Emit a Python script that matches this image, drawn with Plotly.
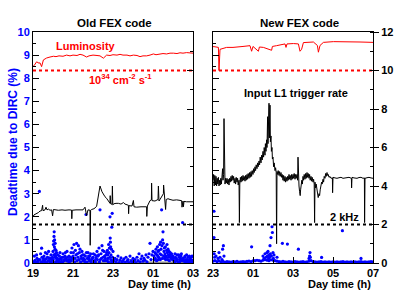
import plotly.graph_objects as go

# ---------------- data ----------------
# Left panel ("Old FEX code"), hours since midnight of first day (25 = 01h, 27 = 03h)
lumi_left_h = [19.0, 19.05, 19.18, 19.3, 19.35, 19.43, 19.52, 19.6, 19.68, 19.85, 20.02, 20.15, 20.3, 20.5,
               20.68, 20.85, 21.0, 21.2, 21.35, 21.5, 21.68, 21.8, 22.0, 22.2, 22.35, 22.52, 22.68, 22.85,
               23.0, 23.2, 23.35, 23.5, 23.7, 23.85, 24.02, 24.2, 24.35, 24.5, 24.68, 24.85, 25.02, 25.15,
               25.3, 25.5, 25.68, 25.85, 26.02, 26.2, 26.35, 26.5, 26.68, 26.85, 27.0]
lumi_left_v = [10.2, 10.25, 10.45, 10.38, 10.4, 10.2, 10.55, 10.6, 10.65, 10.7, 10.74, 10.72, 10.76, 10.74,
               10.8, 10.76, 10.8, 10.78, 10.84, 10.8, 10.7, 10.76, 10.8, 10.78, 10.76, 10.64, 10.8, 10.78,
               10.82, 10.8, 10.84, 10.8, 10.8, 10.76, 10.8, 10.78, 10.72, 10.76, 10.76, 10.8, 10.86, 10.82,
               10.84, 10.88, 10.86, 10.9, 10.9, 10.88, 10.92, 10.9, 10.93, 10.9, 10.9]

rate_left_h = [19.0, 19.05, 19.27, 19.35, 19.43, 19.48, 19.5, 19.6, 19.65, 19.7, 19.77, 19.85, 19.93, 19.98,
               20.02, 20.1, 20.27, 20.45, 20.6, 20.8, 20.93, 20.94, 20.96, 21.15, 21.35, 21.5, 21.6, 21.68,
               21.75, 21.85, 21.86, 21.88, 21.93, 22.05, 22.18, 22.28, 22.35, 22.45, 22.52, 22.6, 22.68,
               22.78, 22.85, 22.86, 22.88, 22.95, 22.97, 22.99, 23.05, 23.15, 23.27, 23.4, 23.52, 23.6,
               23.77, 23.78, 23.8, 23.95, 24.02, 24.05, 24.18, 24.4, 24.6, 24.68, 24.69, 24.72, 24.85,
               24.92, 24.93, 24.95, 25.1, 25.25, 25.27, 25.3, 25.35, 25.45, 25.52, 25.53, 25.56, 25.6,
               25.63, 25.66, 25.75, 25.85, 26.0, 26.18, 26.3, 26.43, 26.45, 26.5, 26.52, 26.55, 26.68,
               26.85, 27.0]
rate_left_v = [2.4, 2.5, 2.62, 2.7, 2.72, 3.0, 2.72, 2.76, 2.9, 2.76, 2.8, 2.74, 2.76, 2.45,
               2.78, 2.76, 2.74, 2.76, 2.74, 2.76, 2.75, 2.3, 2.74, 2.76, 2.74, 2.76, 2.9, 2.46,
               2.76, 2.74, 0.92, 2.74, 2.78, 2.82, 2.94, 3.6, 4.0, 3.7, 3.56, 3.44, 3.36,
               3.2, 3.1, 3.5, 3.08, 3.05, 4.0, 3.02, 3.08, 3.1, 3.1, 3.06, 3.14, 3.06,
               3.0, 2.56, 2.98, 2.96, 3.25, 2.92, 2.9, 2.92, 2.9, 2.92, 2.42, 2.96, 3.24,
               3.28, 4.15, 3.24, 3.22, 3.3, 4.0, 3.22, 3.3, 3.45, 3.6, 4.05, 3.56, 3.5,
               2.78, 3.3, 3.34, 3.3, 3.26, 3.28, 3.26, 3.24, 2.9, 3.22, 2.92, 3.2, 3.18,
               3.2, 3.18]

dead_left_h = [19.05, 19.1, 19.15, 19.2, 19.25, 19.32, 19.35, 19.4, 19.43, 19.45, 19.5,
               19.55, 19.6, 19.65, 19.7, 19.75, 19.8, 19.85, 19.9, 19.95,
               20.0, 20.02, 20.03, 20.05, 20.06, 20.07, 20.08, 20.1, 20.11, 20.12, 20.14, 20.15, 20.17, 20.2,
               20.25, 20.3, 20.35, 20.4, 20.45, 20.5, 20.55, 20.6, 20.65, 20.7, 20.75, 20.8, 20.85, 20.9,
               20.95, 21.0, 21.05, 21.1, 21.12, 21.18, 21.22, 21.27, 21.3, 21.35, 21.4, 21.45, 21.5,
               21.55, 21.6, 21.65, 21.67, 21.72, 21.78, 21.82, 21.88, 21.93, 22.0, 22.05, 22.1, 22.15,
               22.2, 22.25, 22.3, 22.35, 22.37, 22.4, 22.45, 22.5, 22.55, 22.6, 22.65,
               22.72, 22.75, 22.78, 22.8, 22.82, 22.85, 22.86, 22.87, 22.88, 22.9, 22.92, 22.94, 22.96, 22.98, 23.0,
               23.05, 23.1, 23.15, 23.2, 23.25, 23.3, 23.35, 23.4, 23.45, 23.5, 23.55, 23.6, 23.65, 23.7,
               23.75, 23.8, 23.85, 23.9, 23.95, 24.0, 24.05, 24.1, 24.15, 24.2, 24.25, 24.3, 24.35, 24.4,
               24.45, 24.5, 24.55, 24.6, 24.65, 24.7,
               24.75, 24.8, 24.85, 24.9, 24.95, 25.0,
               25.05, 25.1, 25.12, 25.15, 25.2, 25.22, 25.25, 25.28, 25.3, 25.33, 25.35, 25.38, 25.4, 25.43,
               25.45, 25.48, 25.5, 25.52, 25.55, 25.57, 25.6, 25.62, 25.65, 25.68, 25.7, 25.72, 25.75, 25.78,
               25.8, 25.83, 25.86, 25.9, 25.93, 25.97,
               26.0, 26.05, 26.1, 26.15, 26.2, 26.25, 26.3, 26.35, 26.4, 26.45, 26.48, 26.5, 26.55, 26.6,
               26.65, 26.7, 26.75, 26.8, 26.85, 26.9, 26.95, 27.0,
               19.07, 19.12, 19.18, 19.22, 19.28, 19.38, 19.47, 19.52, 19.58, 19.62, 19.68, 19.72, 19.78,
               19.82, 19.88, 19.92, 19.97, 20.01, 20.04, 20.09, 20.13, 20.18, 20.22, 20.28, 20.32, 20.38,
               20.42, 20.48, 20.52, 20.58, 20.62, 20.68, 20.72, 20.78, 20.82, 20.88, 20.92, 20.98, 21.02,
               21.08, 21.15, 21.2, 21.25, 21.32, 21.38, 21.42, 21.48, 21.52, 21.58, 21.62, 21.7, 21.75,
               21.8, 21.85, 21.9, 21.97, 22.02, 22.08, 22.12, 22.18, 22.22, 22.28, 22.32, 22.42, 22.48,
               22.52, 22.58, 22.62, 22.68, 22.7, 22.74, 22.77, 22.84, 22.89, 22.93, 22.99,
               25.07, 25.14, 25.18, 25.24, 25.27, 25.32, 25.37, 25.42, 25.47, 25.53, 25.58, 25.63, 25.67,
               25.73, 25.77, 25.82, 25.88, 25.95, 26.02, 26.08, 26.12, 26.18, 26.22, 26.28, 26.33, 26.38,
               26.42, 26.52, 26.58, 26.62, 26.68, 26.72, 26.78, 26.82, 26.88, 26.92, 26.98]
dead_left_v = [0.05, 0.12, 0.02, 0.2, 0.08, 3.1, 0.15, 0.03, 0.64, 0.25, 0.1,
               0.3, 0.05, 0.18, 0.4, 0.1, 0.22, 0.03, 0.35, 0.15,
               0.5, 0.8, 0.95, 1.15, 1.35, 0.7, 1.0, 0.6, 0.85, 0.4, 0.3, 0.55, 0.2, 0.1,
               0.35, 0.15, 0.45, 0.05, 0.25, 0.4, 0.1, 0.3, 0.2, 0.5, 0.08, 0.3, 0.15, 0.45,
               0.65, 0.3, 0.8, 0.2, 0.55, 0.85, 0.4, 0.75, 0.15, 0.6, 0.3, 0.5, 0.1,
               0.35, 0.05, 2.1, 0.45, 0.2, 0.3, 0.1, 0.4, 0.15, 0.25, 0.05, 0.35, 0.2,
               0.5, 0.3, 0.65, 2.3, 0.15, 0.4, 0.75, 0.25, 0.5, 0.1, 0.35,
               0.55, 0.2, 0.8, 0.45, 0.65, 2.0, 1.08, 0.9, 0.7, 0.35, 0.6, 1.55, 2.15, 0.25, 0.5,
               0.1, 0.2, 0.05, 0.15, 0.3, 0.02, 0.12, 0.22, 0.05, 0.1, 0.18, 0.03, 0.25, 0.08,
               0.15, 0.02, 0.3, 0.1, 0.05, 0.2, 0.08, 0.15, 0.02, 0.25, 0.1, 0.4, 0.05, 0.18,
               0.3, 0.08, 0.2, 0.12, 0.35, 0.05,
               0.25, 0.4, 0.85, 0.15, 0.35, 0.5,
               0.3, 0.45, 0.2, 0.6, 0.35, 0.7, 0.5, 0.25, 0.55, 0.8, 0.4, 0.9, 0.6, 2.3,
               0.75, 1.0, 1.35, 0.85, 0.5, 0.65, 0.4, 0.7, 0.3, 0.55, 0.8, 0.45, 0.6, 0.25,
               0.5, 0.35, 0.45, 0.2, 0.4, 0.15,
               0.3, 0.1, 0.4, 0.2, 0.35, 0.05, 0.25, 0.15, 0.3, 0.1, 1.75, 0.2, 0.08, 0.3,
               0.15, 0.05, 0.25, 0.1, 0.2, 0.05, 0.3, 0.12,
               0.3, 0.0, 0.35, 0.05, 0.15, 0.4, 0.05, 0.2, 0.12, 0.45, 0.02, 0.25, 0.5,
               0.1, 0.2, 0.05, 0.25, 0.15, 0.35, 0.25, 0.05, 0.45, 0.2, 0.05, 0.3, 0.2,
               0.15, 0.05, 0.25, 0.15, 0.45, 0.1, 0.25, 0.15, 0.05, 0.25, 0.1, 0.2, 0.45,
               0.05, 0.35, 0.1, 0.25, 0.45, 0.05, 0.2, 0.35, 0.2, 0.15, 0.3, 0.05, 0.45,
               0.2, 0.3, 0.05, 0.2, 0.4, 0.1, 0.05, 0.3, 0.15, 0.35, 0.05, 0.2, 0.55,
               0.1, 0.3, 0.2, 0.45, 0.1, 0.35, 0.05, 0.25, 0.15, 0.05, 0.1,
               0.15, 0.4, 0.1, 0.3, 0.15, 0.2, 0.15, 0.35, 0.2, 0.3, 0.2, 0.15, 0.25,
               0.15, 0.35, 0.1, 0.3, 0.25, 0.2, 0.05, 0.25, 0.1, 0.15, 0.35, 0.05, 0.2,
               0.4, 0.15, 0.25, 0.05, 0.35, 0.15, 0.05, 0.3, 0.15, 0.25, 0.05]

# Right panel ("New FEX code"), hours (25 = 01h, 31 = 07h)
lumi_right_h = [23.0, 23.05, 23.27, 23.3, 23.35, 23.43, 23.68, 24.0, 24.35, 24.5, 24.85, 24.93, 25.0,
                25.27, 25.32, 25.52, 25.93, 25.97, 26.18, 26.6, 26.65, 26.7, 27.02, 27.27, 27.35, 27.43,
                27.52, 27.68, 28.02, 28.22, 28.27, 28.35, 28.52, 29.02, 29.85, 30.35, 31.0]
lumi_right_v = [11.24, 11.24, 11.2, 10.0, 11.1, 11.12, 11.2, 11.2, 11.22, 11.25, 11.29, 11.0, 11.25,
                11.0, 11.22, 11.2, 11.05, 11.25, 11.29, 11.38, 11.2, 11.38, 11.4, 11.38, 11.0, 11.1,
                11.45, 11.45, 11.48, 11.3, 10.95, 11.3, 11.46, 11.5, 11.5, 11.48, 11.46]

rate_right_h = [23.0, 23.03, 23.06, 23.09, 23.12, 23.15, 23.18, 23.21, 23.24, 23.27, 23.3, 23.33, 23.36,
                23.39, 23.42, 23.45, 23.48, 23.5, 23.53, 23.55, 23.57, 23.6, 23.63, 23.66, 23.7, 23.73,
                23.76, 23.8, 23.83, 23.86, 23.9, 23.93, 23.96, 24.0, 24.03, 24.06, 24.1, 24.13, 24.16,
                24.2, 24.23, 24.26, 24.3, 24.32, 24.34, 24.37, 24.4, 24.43, 24.46, 24.5, 24.53, 24.56,
                24.6, 24.63, 24.66, 24.7, 24.73, 24.76, 24.8, 24.83, 24.86, 24.9, 24.93, 24.96, 25.0,
                25.03, 25.06, 25.1, 25.13, 25.16, 25.2, 25.23, 25.26, 25.3, 25.33, 25.36, 25.4, 25.43,
                25.46, 25.5, 25.53, 25.56, 25.6, 25.62, 25.65, 25.68, 25.7, 25.73, 25.75, 25.77, 25.8,
                25.82, 25.85, 25.87, 25.9, 25.92, 25.95, 25.97, 26.0, 26.03, 26.06, 26.1, 26.13, 26.16,
                26.18, 26.2, 26.23, 26.26, 26.3, 26.33, 26.36, 26.4, 26.43, 26.46, 26.5, 26.53, 26.56,
                26.6, 26.63, 26.66, 26.7, 26.73, 26.76, 26.8, 26.83, 26.86, 26.9, 26.93, 26.96, 27.0,
                27.03, 27.06, 27.1, 27.13, 27.16, 27.2, 27.23, 27.25, 27.27, 27.3, 27.33, 27.36, 27.38,
                27.41, 27.44, 27.47, 27.5, 27.53, 27.56, 27.6, 27.63, 27.66, 27.7, 27.73, 27.76, 27.8,
                27.83, 27.86, 27.9, 27.93, 27.96, 28.0, 28.03, 28.06, 28.08, 28.1, 28.13, 28.16, 28.2,
                28.23, 28.26, 28.3, 28.33, 28.36, 28.4, 28.43, 28.46, 28.5, 28.53, 28.56, 28.6, 28.63,
                28.66, 28.7, 28.73, 28.76, 28.8, 28.85, 28.9, 28.97, 28.98, 29.0, 29.1, 29.2, 29.3,
                29.4, 29.5, 29.6, 29.7, 29.8, 29.92, 29.93, 29.95, 30.05, 30.2, 30.3, 30.4, 30.5,
                30.57, 30.58, 30.6, 30.7, 30.8, 30.9, 31.0]
rate_right_v = [4.3, 4.6, 4.0, 4.55, 4.05, 4.5, 4.0, 4.4, 4.1, 4.45, 4.0, 4.3, 4.05,
                4.4, 4.1, 4.5, 4.9, 4.3, 4.6, 7.5, 4.4, 4.1, 4.4, 4.15, 4.4, 4.1,
                4.35, 4.05, 4.4, 4.2, 4.5, 4.25, 4.55, 4.3, 4.5, 4.15, 4.4, 4.1, 4.45,
                4.2, 4.4, 4.05, 4.3, 2.1, 4.1, 4.45, 4.2, 4.5, 4.25, 4.55, 4.3, 4.5,
                4.25, 4.55, 4.3, 4.6, 4.35, 4.65, 4.4, 4.7, 4.45, 4.75, 4.5, 4.8, 4.6,
                4.9, 4.7, 5.0, 4.8, 5.1, 4.9, 5.2, 5.0, 5.3, 5.1, 5.5, 5.2, 5.6,
                5.35, 5.8, 5.5, 6.0, 5.6, 6.2, 5.8, 6.4, 6.0, 7.6, 6.2, 6.9, 8.3,
                6.5, 8.2, 6.3, 6.6, 5.8, 6.0, 5.4, 5.5, 5.0, 5.2, 4.8, 4.95, 4.7,
                1.0, 4.75, 4.6, 4.8, 4.55, 4.75, 4.5, 4.7, 4.45, 4.6, 4.3, 4.55, 4.25,
                4.5, 4.2, 4.45, 4.25, 4.5, 4.3, 4.6, 4.35, 4.55, 4.3, 4.6, 4.35, 4.6,
                4.4, 4.65, 4.35, 4.6, 4.4, 4.6, 4.3, 5.5, 4.3, 4.0, 3.7, 3.5, 3.8,
                4.0, 4.3, 4.1, 4.5, 4.3, 4.6, 4.35, 4.65, 4.4, 4.7, 4.45, 4.65, 4.4,
                4.6, 4.3, 4.5, 4.25, 4.45, 4.2, 4.35, 4.1, 2.1, 4.2, 3.9, 4.1, 3.7,
                3.5, 3.4, 3.6, 3.5, 3.8, 4.0, 4.2, 4.1, 4.35, 4.2, 4.5, 4.4, 4.65,
                4.5, 4.7, 4.55, 4.6, 4.45, 4.5, 4.4, 4.42, 3.65, 4.45, 4.42, 4.4, 4.43,
                4.45, 4.4, 4.42, 4.4, 4.45, 4.4, 3.9, 4.45, 4.42, 4.4, 4.44, 4.45, 4.4,
                4.42, 2.1, 4.4, 4.43, 4.45, 4.42, 4.4]

dead_right_h = [23.0, 23.1, 23.2, 23.3, 23.4, 23.5, 23.6, 23.7, 23.8, 23.9, 24.0, 24.1, 24.2, 24.3,
                24.4, 24.5, 24.6, 24.7, 24.8, 24.9, 25.0, 25.1, 25.2, 25.3, 25.4, 25.5, 25.6, 25.7,
                25.8, 25.9, 26.0, 26.1, 26.2, 26.3, 26.4, 26.5, 26.6, 26.7, 26.8, 26.9, 27.0, 27.1,
                27.2, 27.3, 27.4, 27.5, 27.6, 27.7, 27.8, 27.9, 28.0, 28.1, 28.2, 28.3, 28.4, 28.5,
                28.6, 28.7, 28.8, 28.9, 29.0, 29.1, 29.2, 29.3, 29.4, 29.5, 29.6, 29.7, 29.8, 29.9,
                30.0, 30.1, 30.2, 30.3, 30.4, 30.5, 30.6, 30.7, 30.8, 30.9, 31.0,
                23.05, 23.05, 23.06, 23.08, 23.15, 23.25, 23.3, 23.35, 23.45, 23.48, 23.52, 23.55,
                24.93, 25.5, 25.55, 25.6, 25.65, 25.7, 25.72, 25.75, 25.78, 25.8, 25.82, 25.85, 25.87,
                25.9, 25.92, 25.95, 25.97, 26.0, 26.02, 26.05, 26.2, 26.47, 26.72, 27.27, 27.8, 27.83,
                27.85, 27.87, 28.43, 29.47, 30.4]
dead_right_v = [0.08, 0.1, 0.06, 0.09, 0.05, 0.07, 0.04, 0.06, 0.05, 0.04, 0.06, 0.05, 0.07, 0.04,
                0.05, 0.06, 0.05, 0.07, 0.08, 0.06, 0.09, 0.1, 0.12, 0.1, 0.08, 0.12, 0.15, 0.12,
                0.1, 0.14, 0.12, 0.1, 0.08, 0.06, 0.05, 0.07, 0.05, 0.04, 0.06, 0.05, 0.04, 0.06,
                0.05, 0.04, 0.05, 0.06, 0.04, 0.05, 0.08, 0.1, 0.06, 0.05, 0.04, 0.05, 0.06, 0.04,
                0.05, 0.04, 0.05, 0.04, 0.05, 0.04, 0.05, 0.04, 0.05, 0.06, 0.04, 0.05, 0.04, 0.05,
                0.04, 0.05, 0.04, 0.05, 0.06, 0.04, 0.05, 0.04, 0.05, 0.06, 0.05,
                2.24, 1.1, 0.4, 0.25, 0.3, 0.2, 0.45, 0.25, 0.15, 0.6, 0.75, 0.3,
                0.7, 0.3, 0.2, 0.4, 0.25, 0.45, 0.3, 0.5, 0.2, 0.35, 0.25, 0.75, 0.4,
                1.1, 0.3, 1.57, 1.32, 0.45, 0.2, 0.35, 0.25, 0.85, 0.82, 0.6, 0.2, 0.3,
                0.45, 0.25, 0.24, 1.4, 0.2]

LUMI_REF = 10.0   # 10^34 cm^-2 s^-1 on the rate/lumi scale
RATE_REF = 2.0    # 2 kHz
left_span = [19, 27]
right_span = [23, 31]
left_tickvals = [19, 21, 23, 25, 27]
left_ticktext = ["19", "21", "23", "01", "03"]
right_tickvals = [23, 25, 27, 29, 31]
right_ticktext = ["23", "01", "03", "05", "07"]

# ---------------- figure ----------------
FONT = "Liberation Sans"
BLUE = "#0000ff"
RED = "#ff0000"

fig = go.Figure()

# grey baseline of the deadtime histogram
fig.add_trace(go.Scatter(x=left_span, y=[0, 0], mode="lines", line=dict(color="#8c8c8c", width=3),
                         xaxis="x", yaxis="y", hoverinfo="skip"))
fig.add_trace(go.Scatter(x=dead_left_h, y=dead_left_v, mode="markers",
                         marker=dict(color=BLUE, size=3.2), xaxis="x", yaxis="y"))
fig.add_trace(go.Scatter(x=dead_right_h, y=dead_right_v, mode="markers",
                         marker=dict(color=BLUE, size=3.2), xaxis="x2", yaxis="y3"))

for xa, ya, span, lh, lv, rh, rv in [("x", "y2", left_span, lumi_left_h, lumi_left_v, rate_left_h, rate_left_v),
                                     ("x2", "y4", right_span, lumi_right_h, lumi_right_v, rate_right_h, rate_right_v)]:
    fig.add_trace(go.Scatter(x=span, y=[RATE_REF, RATE_REF], mode="lines",
                             line=dict(color="black", width=2, dash="dot"), xaxis=xa, yaxis=ya))
    fig.add_trace(go.Scatter(x=span, y=[LUMI_REF, LUMI_REF], mode="lines",
                             line=dict(color=RED, width=2, dash="dot"), xaxis=xa, yaxis=ya))
    fig.add_trace(go.Scatter(x=rh, y=rv, mode="lines", line=dict(color="black", width=1),
                             xaxis=xa, yaxis=ya))
    fig.add_trace(go.Scatter(x=lh, y=lv, mode="lines", line=dict(color=RED, width=1),
                             xaxis=xa, yaxis=ya))

tickfont = dict(family=FONT, size=11, color="black", weight="bold")
common_x = dict(showgrid=False, zeroline=False, showline=True, mirror=True, linecolor="black",
                linewidth=1, ticks="inside", ticklen=6, tickcolor="black", tickfont=tickfont,
                minor=dict(ticks="inside", ticklen=3, dtick=1, tickcolor="black"))
common_y = dict(showgrid=False, zeroline=False, showline=True, linecolor="black", linewidth=1,
                tickcolor="black")

gap = 20 / 340
w = 160 / 340
fig.update_layout(
    width=407, height=295,
    margin=dict(l=33, r=34, t=32, b=32),
    paper_bgcolor="white", plot_bgcolor="white",
    showlegend=False,
    xaxis=dict(domain=[0, w], range=left_span, tickvals=left_tickvals, ticktext=left_ticktext,
               anchor="y", **common_x),
    yaxis=dict(domain=[0, 1], range=[0, 10], anchor="x", side="left", dtick=1, tick0=0,
               ticks="inside", ticklen=6,
               tickfont=dict(family=FONT, size=11, color=BLUE, weight="bold"),
               minor=dict(ticks="inside", ticklen=3, dtick=0.5, tickcolor="black"), **common_y),
    yaxis2=dict(range=[0, 12], anchor="x", overlaying="y", side="right", showticklabels=False,
                dtick=2, tick0=0, ticks="inside", ticklen=6,
                minor=dict(ticks="inside", ticklen=3, dtick=1, tickcolor="black"), **common_y),
    xaxis2=dict(domain=[w + gap, 1], range=right_span, tickvals=right_tickvals, ticktext=right_ticktext,
                anchor="y3", **common_x),
    yaxis3=dict(domain=[0, 1], range=[0, 10], anchor="x2", side="left", showticklabels=False,
                dtick=1, tick0=0, ticks="inside", ticklen=6,
                minor=dict(ticks="inside", ticklen=3, dtick=0.5, tickcolor="black"), **common_y),
    yaxis4=dict(range=[0, 12], anchor="x2", overlaying="y3", side="right", dtick=2, tick0=0,
                ticks="outside", ticklen=5, tickfont=tickfont,
                minor=dict(ticks="inside", ticklen=3, dtick=1, tickcolor="black"), **common_y),
)

def px2paper(px, py):
    return (px - 33) / 340, (263 - py) / 231

def note(text, px, py, color="black", size=11, xanchor="center", angle=0):
    x, y = px2paper(px, py)
    fig.add_annotation(text=text, x=x, y=y, xref="paper", yref="paper", xanchor=xanchor,
                       yanchor="middle", showarrow=False, textangle=angle,
                       font=dict(family=FONT, size=size, color=color, weight="bold"))

note("Old FEX code", 114, 23, size=11.5)
note("New FEX code", 299, 23, size=11.5)
note("Luminosity", 86, 46, color=RED)
note("10<sup>34</sup> cm<sup>-2</sup> s<sup>-1</sup>", 120, 79, color=RED)
note("Input L1 trigger rate", 296, 93)
note("2 kHz", 344, 217)
note("Day time (h)", 193, 284, xanchor="right")
note("Day time (h)", 373, 284, xanchor="right")
note("Deadtime due to DIRC (%)", 13, 142, color=BLUE, size=12, angle=-90)

fig.write_html("out.html", config={"displayModeBar": False},
               post_script="document.body.style.margin='0';document.body.style.overflow='hidden';")
